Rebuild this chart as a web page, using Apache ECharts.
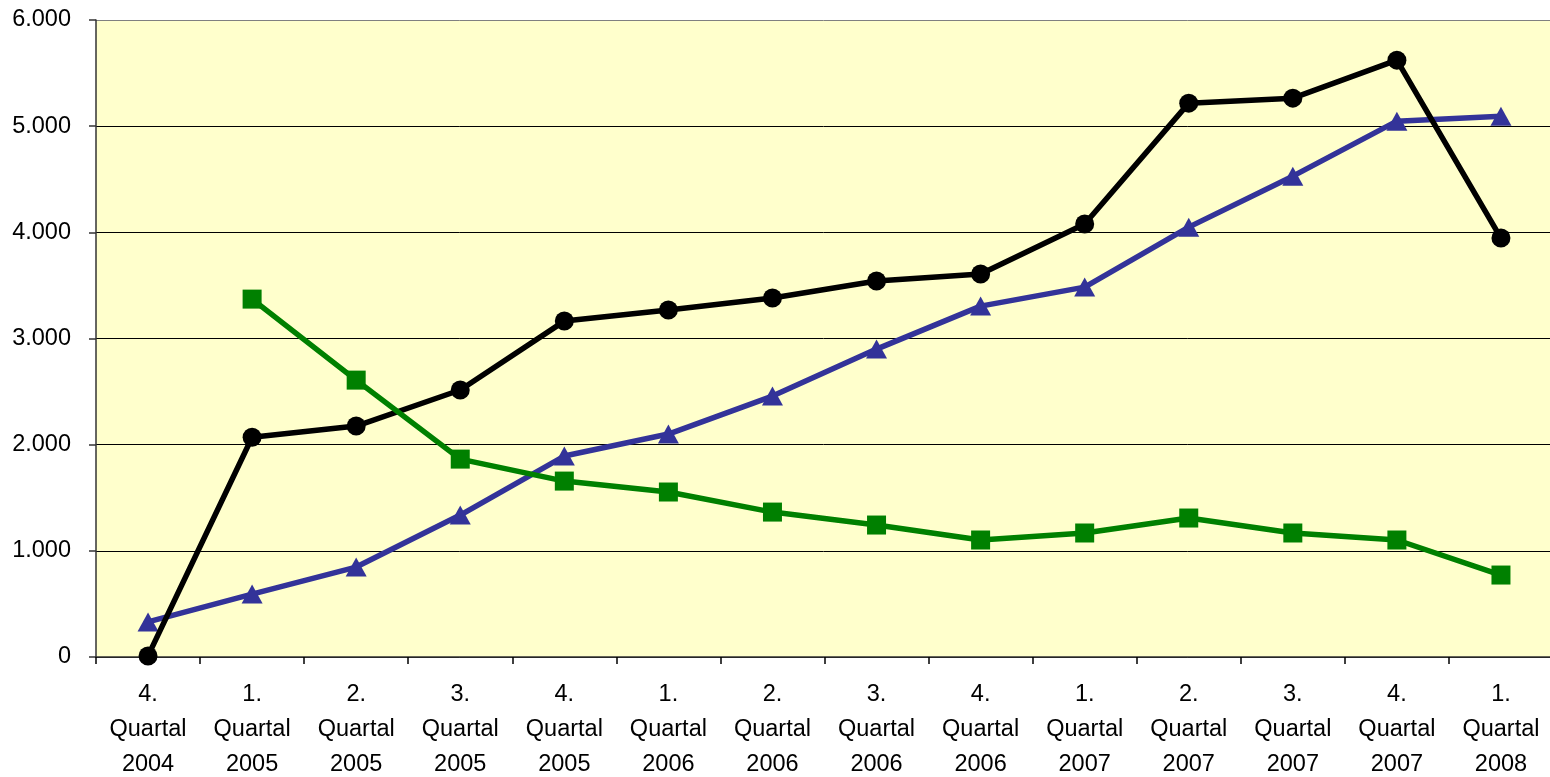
<!DOCTYPE html>
<html>
<head>
<meta charset="utf-8">
<script src="https://cdn.jsdelivr.net/npm/echarts@6/dist/echarts.min.js"></script>
<style>html,body{margin:0;padding:0;background:#fff;}#c{width:1550px;height:777px;}</style>
</head>
<body>
<div id="c"></div>
<script>
const categories = ['4. Quartal 2004','1. Quartal 2005','2. Quartal 2005','3. Quartal 2005','4. Quartal 2005','1. Quartal 2006','2. Quartal 2006','3. Quartal 2006','4. Quartal 2006','1. Quartal 2007','2. Quartal 2007','3. Quartal 2007','4. Quartal 2007','1. Quartal 2008'];
const blackSeries = [10, 2070, 2175, 2515, 3164, 3268, 3381, 3541, 3607, 4078, 5217, 5264, 5622, 3946];
const blueSeries = [330, 593, 847, 1337, 1893, 2100, 2458, 2900, 3305, 3484, 4049, 4529, 5047, 5094];
const greenSeries = [null, 3371, 2608, 1864, 1657, 1554, 1365, 1243, 1102, 1168, 1309, 1168, 1102, 772];
const yTicks = [0, 1000, 2000, 3000, 4000, 5000, 6000];

const chart = echarts.init(document.getElementById('c'));
const fmt = v => v === 0 ? '0' : (v/1000).toFixed(3);
chart.setOption({
  animation: false,
  grid: {left: 96, top: 20, width: 1457, height: 637, show: true, backgroundColor: '#FFFFCC', borderWidth: 0,
         containLabel: false, outerBoundsMode: 'none'},
  xAxis: {
    type: 'category', data: categories, boundaryGap: true,
    axisLine: {lineStyle: {color: '#333', width: 1.5}},
    axisTick: {show: true, length: 7, lineStyle: {color: '#000', width: 1.5}},
    axisLabel: {
      interval: 0, margin: 20, fontFamily: 'Liberation Sans', fontSize: 23.5, lineHeight: 35, color: '#000',
      formatter: v => v.split(' ').join('\n')
    }
  },
  yAxis: {
    type: 'value', min: yTicks[0], max: yTicks[yTicks.length-1], interval: 1000,
    axisLine: {show: true, lineStyle: {color: '#333', width: 1.5}},
    axisTick: {show: true, length: 7, lineStyle: {color: '#333', width: 1.5}},
    axisLabel: {margin: 25, fontFamily: 'Liberation Sans', fontSize: 23.5, color: '#000', formatter: fmt},
    splitLine: {show: true, lineStyle: {color: ['#000','#000','#000','#000','#000','#000','#808080'], width: 1}}
  },
  series: [
    {type: 'line', data: blueSeries, symbol: 'triangle', symbolSize: [21, 19], color: '#333399',
     lineStyle: {width: 5.5, color: '#333399'}, itemStyle: {color: '#333399'}, z: 2},
    {type: 'line', data: blackSeries, symbol: 'circle', symbolSize: 19, color: '#000',
     lineStyle: {width: 5.5, color: '#000'}, itemStyle: {color: '#000'}, z: 3},
    {type: 'line', data: greenSeries, symbol: 'rect', symbolSize: 19, color: '#008000',
     lineStyle: {width: 5.5, color: '#008000'}, itemStyle: {color: '#008000'}, z: 4}
  ]
});
</script>
</body>
</html>
